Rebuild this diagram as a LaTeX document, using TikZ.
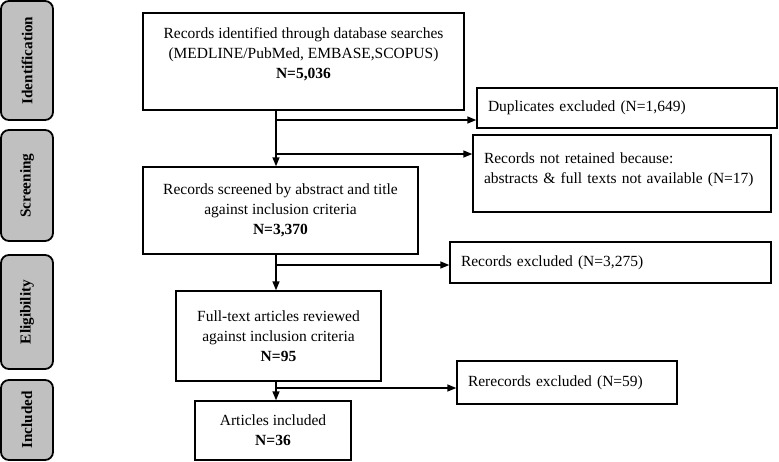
\documentclass[tikz,border=0pt]{standalone}
\usepackage{fontspec}
\setmainfont{Liberation Serif}
\usetikzlibrary{arrows.meta}
\definecolor{stagegray}{RGB}{192,192,192}

\begin{document}
\begin{tikzpicture}[x=1pt,y=-1pt,font=\fontsize{15.5}{20}\selectfont,
	main node/.style={draw,line width=1.4pt,align=center,inner sep=0pt},
	side node/.style={draw,line width=1.4pt,align=left,inner xsep=11pt,inner ysep=0pt},
	stage node/.style={draw,line width=1.8pt,rounded corners=8pt,fill=stagegray,minimum height=52,font=\fontsize{15.2}{19}\selectfont\bfseries},
	flow/.style={line width=1.4pt,-{Triangle[length=9pt,width=7pt]}}]
				
				\useasboundingbox (0,0) rectangle (779,461);
				
				% stages
				\node[stage node,minimum width=119,rotate=90] (a) at (27,60.5) {Identification};
				\node[stage node,minimum width=111,rotate=90] (b) at (27,185.5) {Screening};
				\node[stage node,minimum width=114,rotate=90] (c) at (27,312) {Eligibility};
				\node[stage node,minimum width=80,rotate=90] (d) at (27,420) {Included};
				
				% main flow
				\node[main node,minimum width=321,minimum height=97] (1) at (303.5,61.5) {Records identified through database searches\\(MEDLINE/PubMed, EMBASE,SCOPUS)\\\textbf{N=5,036}\\[-4pt]\mbox{}};
				\node[main node,minimum width=275,minimum height=87] (2) at (280.5,210.5) {Records screened by abstract and title\\against inclusion criteria\\\textbf{N=3,370}};
				\node[main node,minimum width=205,minimum height=90] (3) at (278.5,336) {Full-text articles reviewed\\against inclusion criteria\\\textbf{N=95}};
				\node[main node,minimum width=156,minimum height=59] (4) at (273,430.5) {Articles included\\\textbf{N=36}};
				
				% exclusions
				\node[side node,text width=278,minimum height=40] (5) at (627,108) {Duplicates excluded (N=1,649)};
				\node[side node,text width=276,minimum height=77] (6) at (622,173.5) {Records not retained because:\\abstracts \& full texts not available (N=17)\\[-10pt]\mbox{}};
				\node[side node,text width=299,minimum height=41] (7) at (610.5,262.5) {Records excluded (N=3,275)};
				\node[side node,text width=198,minimum height=43] (8) at (567,382.5) {Rerecords excluded (N=59)};
				
				\coordinate (b1) at (276,120);
				\coordinate (b2) at (276,154);
				\coordinate (b3) at (276,265);
				\coordinate (b4) at (276,388);
				
				\draw[flow] (b1 |- 1.south) -- (b1 |- 2.north);
				\draw[flow] (b3 |- 2.south) -- (b3 |- 3.north);
				\draw[flow] (b4 |- 3.south) -- (b4 |- 4.north);
				
				\draw[flow] (b1) -- (b1 -| 5.west);
				\draw[flow] (b2) -- (b2 -| 6.west);
				\draw[flow] (b3) -- (b3 -| 7.west);
				\draw[flow] (b4) -- (b4 -| 8.west);
				
				\end{tikzpicture}
\end{document}
